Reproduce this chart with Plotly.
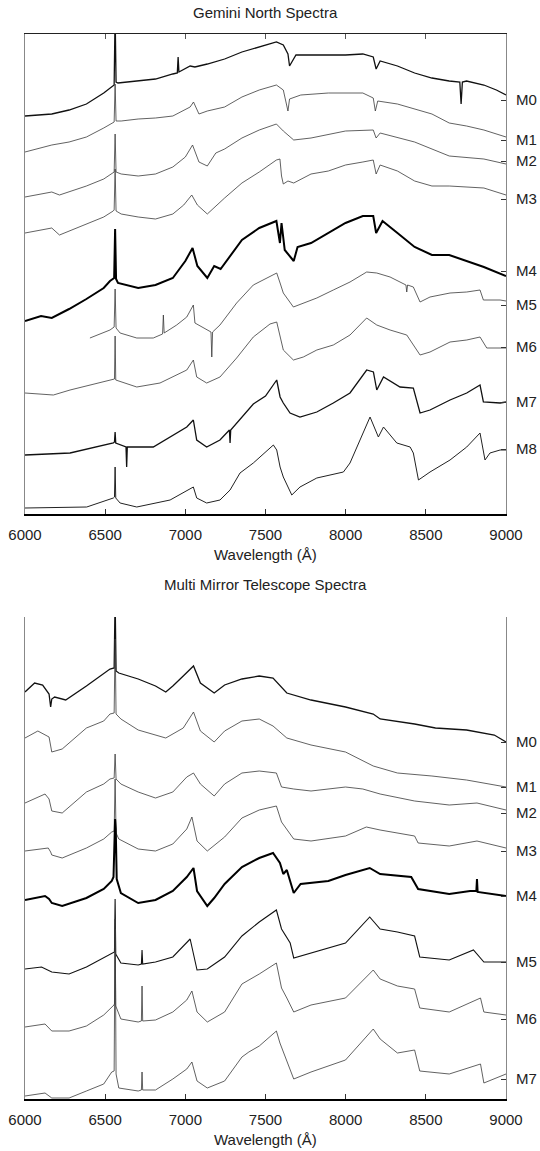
import plotly.graph_objects as go

# ---------------- Data: Gemini North spectra (wavelength in Angstrom, offset flux in arbitrary units)
GN_M0_WL = [6000,6167,6275,6383,6491,6530,6556,6562,6568,6580,6706,6814,6922,6950,6955,6960,7030,7060,7137,7245,7353,7461,7568,7611,7640,7650,7690,7784,7892,7999,8107,8172,8190,8215,8323,8430,8538,8646,8712,8720,8728,8754,8862,8940,9000]
GN_M0_FL = [398,400,404,410,421,426,429,500,432,431,433,435,440,441,457,442,448,447,450,455,462,467,472,469,460,448,459,459,459,459,460,457,445,453,448,441,436,433,432,410,432,433,429,424,419]

GN_M1_WL = [6000,6167,6275,6383,6491,6550,6556,6562,6568,6600,6706,6814,6922,7030,7051,7085,7137,7245,7353,7461,7568,7611,7640,7650,7720,7892,8107,8172,8185,8200,8323,8538,8646,8754,8862,9000]
GN_M1_FL = [362,369,372,377,386,391,392,430,393,393,395,396,398,407,412,400,403,407,417,424,429,424,403,415,419,421,421,416,403,413,410,400,391,388,384,377]

GN_M2_WL = [6000,6167,6215,6383,6491,6550,6556,6562,6568,6600,6706,6814,6922,7000,7045,7085,7137,7190,7245,7353,7461,7568,7611,7676,7784,7999,8107,8172,8190,8215,8430,8646,8862,9000]
GN_M2_FL = [317,322,319,328,335,341,342,380,342,340,338,340,347,357,369,352,348,361,365,376,384,390,383,374,376,383,384,384,376,381,372,358,355,350]

GN_M3_WL = [6000,6167,6215,6383,6491,6550,6556,6562,6568,6600,6706,6814,6922,6990,7040,7075,7137,7245,7353,7461,7568,7590,7600,7611,7640,7676,7784,7892,7999,8107,8172,8190,8215,8323,8430,8538,8646,8862,9000]
GN_M3_FL = [281,286,279,290,297,303,304,345,303,300,297,295,300,309,319,309,300,316,331,342,354,355,338,330,333,331,340,343,349,352,354,340,349,343,333,328,328,326,319]

GN_M4_WL = [6000,6100,6167,6275,6383,6491,6530,6556,6562,6568,6580,6706,6814,6922,7000,7045,7075,7137,7180,7220,7353,7461,7568,7590,7600,7620,7676,7700,7784,7892,7999,8107,8172,8190,8230,8323,8430,8538,8646,8862,9000]
GN_M4_FL = [193,198,196,205,215,226,233,236,285,235,231,226,229,236,253,266,248,236,248,245,274,286,293,271,291,264,253,267,271,281,291,298,298,281,293,281,267,259,259,247,238]

GN_M5_WL = [6405,6530,6556,6562,6568,6593,6697,6800,6858,6863,6868,6946,7009,7050,7060,7112,7160,7165,7170,7216,7320,7424,7570,7591,7611,7674,7736,7820,7923,8027,8131,8194,8277,8376,8381,8386,8422,8464,8526,8651,8755,8838,8859,8963,9000]
GN_M5_FL = [176,184,187,225,186,181,176,176,180,199,181,189,197,209,191,186,182,157,182,189,211,229,241,231,221,207,211,216,224,232,242,241,237,229,222,229,227,212,217,221,222,224,214,214,213]

GN_M6_WL = [6000,6177,6281,6489,6551,6558,6562,6566,6697,6842,7009,7050,7071,7133,7216,7320,7424,7528,7570,7591,7611,7674,7736,7820,7923,8027,8131,8194,8277,8381,8443,8464,8526,8651,8755,8838,8880,8963,9000]
GN_M6_FL = [121,119,124,132,134,135,178,134,127,131,144,154,137,131,137,156,177,190,192,177,164,154,157,164,169,179,196,189,184,179,164,159,162,172,174,177,166,166,166]

GN_M7_WL = [6000,6281,6551,6558,6562,6566,6630,6634,6638,6800,7009,7050,7071,7133,7216,7275,7279,7283,7424,7500,7570,7591,7611,7653,7715,7820,7923,8027,8131,8173,8194,8236,8339,8422,8464,8526,8651,8755,8838,8859,8963,9000]
GN_M7_FL = [59,61,71,72,82,71,67,47,67,67,87,94,74,67,74,84,71,84,110,118,134,117,111,101,97,102,111,121,144,142,124,137,127,126,101,104,114,121,129,112,111,112]

GN_M8_WL = [6000,6385,6551,6558,6562,6566,6593,6697,6905,7050,7071,7133,7216,7279,7341,7424,7549,7570,7591,7611,7664,7715,7820,7986,8027,8090,8152,8204,8236,8319,8402,8422,8454,8526,8651,8755,8838,8869,8900,8963,9000]
GN_M8_FL = [6,7,16,17,47,16,11,7,14,27,16,11,14,24,41,51,69,64,47,37,19,27,36,42,51,74,97,77,87,71,67,61,34,42,54,67,81,54,61,64,64]

GN_LABELS = ["M0","M1","M2","M3","M4","M5","M6","M7","M8"]
GN_LABEL_POS = [414,374,353,315,243,209,167,112,65]

# ---------------- Data: Multi Mirror Telescope spectra
MMT_M0_WL = [6000,6060,6110,6150,6160,6167,6185,6254,6383,6491,6530,6556,6562,6568,6585,6706,6814,6878,6922,6987,7051,7094,7180,7245,7353,7461,7547,7633,7784,7999,8172,8215,8430,8560,8754,8927,9000]
MMT_M0_FL = [407,416,414,405,392,400,402,399,413,425,430,431,500,428,426,420,413,407,413,423,433,416,406,414,420,423,421,406,399,392,385,380,375,371,369,364,357]

MMT_M1_WL = [6000,6080,6150,6167,6232,6383,6491,6530,6556,6562,6568,6598,6706,6878,6987,7051,7094,7180,7245,7353,7461,7547,7633,7784,7999,8172,8323,8538,8754,9000]
MMT_M1_FL = [361,368,362,347,350,371,378,385,386,460,385,380,369,361,371,387,368,357,368,378,380,373,361,354,347,333,326,323,319,312]

MMT_M2_WL = [6000,6125,6150,6167,6232,6383,6491,6530,6556,6562,6568,6598,6706,6814,6922,7009,7051,7094,7180,7245,7353,7461,7568,7600,7676,7784,7999,8107,8215,8430,8646,8819,9000]
MMT_M2_FL = [296,305,300,288,286,307,315,320,321,345,320,315,307,301,307,322,326,315,303,315,326,328,326,312,310,308,312,310,305,298,294,296,289]

MMT_M3_WL = [6000,6145,6160,6167,6232,6383,6491,6541,6556,6562,6568,6585,6706,6814,6922,7009,7041,7073,7137,7245,7353,7461,7568,7600,7676,7784,7999,8129,8215,8430,8452,8646,8819,8905,9000]
MMT_M3_FL = [248,251,247,244,241,251,260,267,268,320,266,260,250,248,255,270,282,258,248,262,281,289,293,277,260,258,263,272,269,263,256,253,258,255,251]

MMT_M4_WL = [6000,6125,6150,6167,6232,6383,6491,6541,6552,6558,6562,6566,6572,6598,6706,6814,6922,7009,7051,7073,7137,7180,7245,7353,7461,7547,7590,7611,7633,7676,7719,7892,7999,8150,8215,8409,8452,8646,8776,8815,8819,8823,8862,9000]
MMT_M4_FL = [199,203,200,196,193,201,210,218,222,275,280,270,220,206,196,199,208,222,231,208,193,201,215,232,241,246,236,225,229,206,215,218,224,231,225,222,210,205,208,208,220,207,206,203]

MMT_M5_WL = [6000,6103,6167,6275,6383,6491,6555,6558,6562,6566,6598,6706,6726,6730,6734,6814,6922,7030,7073,7137,7245,7353,7461,7568,7600,7654,7676,7784,7999,8150,8215,8323,8430,8462,8646,8797,8862,9000]
MMT_M5_FL = [130,132,127,125,132,141,146,147,200,145,136,134,135,149,135,137,142,160,129,130,142,163,177,189,170,156,141,146,156,182,170,167,163,142,139,149,137,137]

MMT_M6_WL = [6000,6125,6167,6275,6383,6491,6555,6558,6562,6566,6598,6706,6726,6730,6734,6814,6922,7009,7041,7073,7137,7245,7353,7461,7568,7600,7633,7676,7784,7999,8172,8215,8323,8430,8462,8646,8841,8862,9000]
MMT_M6_FL = [72,75,68,68,73,84,94,95,170,93,80,77,78,113,78,79,87,99,108,87,77,87,115,125,136,111,101,87,94,101,129,120,113,110,91,87,101,87,84]

MMT_M7_WL = [6000,6125,6167,6275,6383,6491,6541,6556,6562,6568,6585,6706,6726,6730,6734,6814,6922,7009,7041,7073,7137,7245,7353,7396,7461,7568,7590,7633,7676,7784,7999,8172,8215,8323,8430,8462,8646,8841,8862,9000]
MMT_M7_FL = [3,6,1,1,8,15,27,28,180,25,11,8,9,27,9,9,20,30,37,18,11,18,42,47,53,68,56,39,20,27,39,70,60,46,49,28,25,35,16,25]

MMT_LABELS = ["M0","M1","M2","M3","M4","M5","M6","M7"]
MMT_LABEL_POS = [357,312,286,248,203,137,80,20]

X_TICKS = [6000,6500,7000,7500,8000,8500,9000]

# ---------------- styling
W, H = 540, 1151
THIN = dict(color="#3a3a3a", width=0.8)
MED = dict(color="#111111", width=1.3)
THICK = dict(color="#000000", width=2.0)

gn_series = [
    (GN_M0_WL, GN_M0_FL, MED), (GN_M1_WL, GN_M1_FL, THIN), (GN_M2_WL, GN_M2_FL, THIN),
    (GN_M3_WL, GN_M3_FL, THIN), (GN_M4_WL, GN_M4_FL, THICK), (GN_M5_WL, GN_M5_FL, THIN),
    (GN_M6_WL, GN_M6_FL, THIN), (GN_M7_WL, GN_M7_FL, MED), (GN_M8_WL, GN_M8_FL, dict(color="#222", width=1.0)),
]
mmt_series = [
    (MMT_M0_WL, MMT_M0_FL, MED), (MMT_M1_WL, MMT_M1_FL, THIN), (MMT_M2_WL, MMT_M2_FL, THIN),
    (MMT_M3_WL, MMT_M3_FL, THIN), (MMT_M4_WL, MMT_M4_FL, THICK), (MMT_M5_WL, MMT_M5_FL, dict(color="#111", width=1.1)),
    (MMT_M6_WL, MMT_M6_FL, THIN), (MMT_M7_WL, MMT_M7_FL, THIN),
]

fig = go.Figure()
for wl, fl, ln in gn_series:
    fig.add_trace(go.Scatter(x=wl, y=fl, mode="lines", line=ln, xaxis="x", yaxis="y",
                             showlegend=False, hoverinfo="skip"))
for wl, fl, ln in mmt_series:
    fig.add_trace(go.Scatter(x=wl, y=fl, mode="lines", line=ln, xaxis="x2", yaxis="y2",
                             showlegend=False, hoverinfo="skip"))

FONT = dict(family="Liberation Sans, Arial, sans-serif", size=15, color="#222")
xdom = [25 / W, 506 / W]
top_dom = [1 - 514 / H, 1 - 33.5 / H]
bot_dom = [1 - 1099 / H, 1 - 617 / H]

def xaxis(anchor):
    return dict(domain=xdom, range=[6000, 9000], anchor=anchor, tickvals=X_TICKS,
                ticks="inside", ticklen=5, tickwidth=1, tickcolor="#333",
                showline=True, linecolor="#000", linewidth=2, showgrid=False, zeroline=False,
                tickfont=FONT, ticklabelstandoff=6, automargin=False)

def xaxis_top(over):
    return dict(overlaying=over, matches=over, side="top", range=[6000, 9000], tickvals=X_TICKS,
                ticks="inside", ticklen=5, tickwidth=1, tickcolor="#555",
                showline=True, linecolor="#222", linewidth=1, showticklabels=False,
                showgrid=False, zeroline=False, automargin=False)

def yaxis(anchor, dom, rng, vals, text):
    return dict(domain=dom, range=rng, anchor=anchor, side="right", tickvals=vals, ticktext=text,
                ticks="inside", ticklen=5, tickwidth=1, tickcolor="#333",
                showline=True, linecolor="#888", linewidth=1, mirror=True,
                showgrid=False, zeroline=False, tickfont=FONT, ticklabelstandoff=6,
                automargin=False)

fig.update_layout(
    width=W, height=H, margin=dict(l=0, r=0, t=0, b=0, autoexpand=False),
    paper_bgcolor="white", plot_bgcolor="white",
    xaxis=xaxis("y"), xaxis2=xaxis("y2"),
    xaxis3=xaxis_top("x"), xaxis4=xaxis_top("x2"),
    yaxis=yaxis("x", top_dom, [0, 480.5], GN_LABEL_POS, GN_LABELS),
    yaxis2=yaxis("x2", bot_dom, [0, 482], MMT_LABEL_POS, MMT_LABELS),
)
# invisible anchor traces so the top overlay axes are drawn
fig.add_trace(go.Scatter(x=[6000], y=[-100], xaxis="x3", yaxis="y", mode="markers",
                         marker=dict(opacity=0), showlegend=False, hoverinfo="skip"))
fig.add_trace(go.Scatter(x=[6000], y=[-100], xaxis="x4", yaxis="y2", mode="markers",
                         marker=dict(opacity=0), showlegend=False, hoverinfo="skip"))

cx = (xdom[0] + xdom[1]) / 2
for text, ypx in [("Gemini North Spectra", 12), ("Wavelength (Å)", 554),
                  ("Multi Mirror Telescope Spectra", 584), ("Wavelength (Å)", 1139)]:
    fig.add_annotation(text=text, x=cx, y=1 - ypx / H, xref="paper", yref="paper",
                       showarrow=False, xanchor="center", yanchor="middle", font=FONT)

fig.write_html("out.html")
